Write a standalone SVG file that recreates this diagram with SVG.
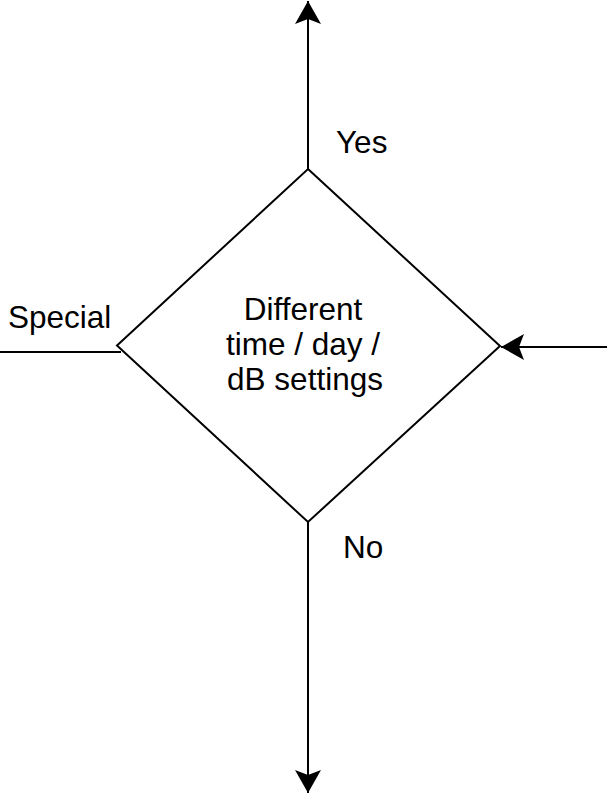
<svg xmlns="http://www.w3.org/2000/svg" width="607" height="794" viewBox="0 0 607 794">
<style>
.ln{fill:none;stroke:#000;stroke-width:2}
.t{font-family:"Liberation Sans",Arial,Helvetica,sans-serif;font-size:31.5px;fill:#000}
</style>
<defs>
<marker id="ah" markerUnits="userSpaceOnUse" viewBox="0 0 24 26" refX="23" refY="13" markerWidth="24" markerHeight="26" orient="auto">
<path d="M0,0 L23,13 L0,26 L5,13 Z" fill="#000"/>
</marker>
</defs>
<rect width="607" height="794" fill="#fff"/>
<g id="connectors">
<line class="ln" x1="308" y1="169" x2="308" y2="1" marker-end="url(#ah)"/>
<line class="ln" x1="308" y1="522" x2="308" y2="793" marker-end="url(#ah)"/>
<line class="ln" x1="607" y1="347" x2="501" y2="347" marker-end="url(#ah)"/>
<line class="ln" x1="0" y1="352" x2="121" y2="352"/>
</g>
<g id="decision">
<polygon class="ln" points="308,169 500,346 308,522 117,345.5" fill="#fff"/>
<text class="t" text-anchor="middle" x="303" y="320">Different</text>
<text class="t" text-anchor="middle" x="303" y="355">time / day /</text>
<text class="t" text-anchor="middle" x="305" y="390">dB settings</text>
</g>
<g id="labels">
<text class="t" x="336" y="153">Yes</text>
<text class="t" x="343" y="558">No</text>
<text class="t" x="8" y="328">Special</text>
</g>
</svg>
